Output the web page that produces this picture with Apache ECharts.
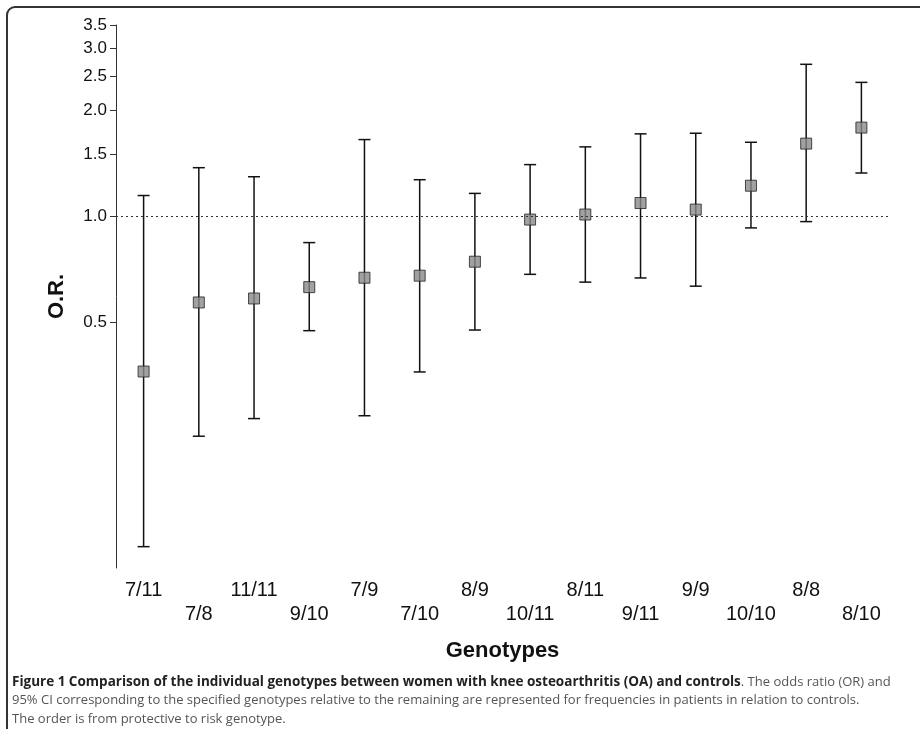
<!DOCTYPE html>
<html>
<head>
<meta charset="utf-8">
<script src="https://cdn.jsdelivr.net/npm/echarts@6/dist/echarts.min.js"></script>
<style>
html,body{margin:0;padding:0;background:#fff;}
#chart{width:920px;height:729px;}
</style>
</head>
<body>
<div id="chart"></div>
<script>
const categories = ['7/11','7/8','11/11','9/10','7/9','7/10','8/9','10/11','8/11','9/11','9/9','10/10','8/8','8/10'];
const oddsRatio = [0.362,0.569,0.584,0.629,0.669,0.678,0.743,0.979,1.012,1.091,1.045,1.222,1.610,1.788];
const ciLower  = [0.115,0.237,0.266,0.473,0.271,0.361,0.475,0.684,0.650,0.668,0.633,0.927,0.966,1.328];
const ciUpper  = [1.146,1.375,1.296,0.842,1.653,1.271,1.162,1.403,1.576,1.716,1.723,1.624,2.706,2.404];
const yTicks = [0.5,1.0,1.5,2.0,2.5,3.0,3.5];
const referenceOR = 1.0;

const chart = echarts.init(document.getElementById('chart'), null, {renderer:'canvas'});

const ciData = categories.map((c, i) => [i, ciLower[i], ciUpper[i]]);
const pointData = categories.map((c, i) => [i, oddsRatio[i]]);

const option = {
  animation: false,
  backgroundColor: '#ffffff',
  grid: { left: 116, right: 31, top: 25, bottom: 161, containLabel: false },
  xAxis: {
    type: 'category',
    data: categories,
    boundaryGap: true,
    axisLine: { show: false },
    axisTick: { show: false },
    splitLine: { show: false },
    axisLabel: {
      interval: 0,
      margin: 10,
      fontFamily: 'Liberation Sans, Arial, sans-serif',
      fontSize: 20,
      color: '#111',
      lineHeight: 24,
      verticalAlign: 'top',
      formatter: (v, i) => (i % 2 === 1 ? '\n' + v : v)
    },
    name: 'Genotypes',
    nameLocation: 'middle',
    nameGap: 72,
    nameTextStyle: { fontFamily: 'Liberation Sans, Arial, sans-serif', fontSize: 22, fontWeight: 'bold', color: '#111' }
  },
  yAxis: {
    type: 'log',
    logBase: 10,
    min: 0.1,
    max: 3.5,
    axisLine: { show: true, lineStyle: { color: '#333', width: 1 } },
    axisTick: { show: true, inside: false, length: 6, customValues: yTicks, lineStyle: { color: '#333' } },
    splitLine: { show: false },
    minorTick: { show: false },
    axisLabel: {
      customValues: yTicks,
      margin: 9,
      fontFamily: 'Liberation Sans, Arial, sans-serif',
      fontSize: 17,
      color: '#111',
      formatter: v => Number(v).toFixed(1)
    },
    name: 'O.R.',
    nameLocation: 'middle',
    nameRotate: 90,
    nameGap: 48,
    nameTextStyle: { fontFamily: 'Liberation Sans, Arial, sans-serif', fontSize: 22, fontWeight: 'bold', color: '#111' }
  },
  series: [
    {
      type: 'custom',
      name: 'CI',
      data: ciData,
      encode: { x: 0, y: [1, 2] },
      z: 2,
      renderItem: function (params, api) {
        const xi = api.value(0);
        const lo = api.coord([xi, api.value(1)]);
        const hi = api.coord([xi, api.value(2)]);
        const half = 6;
        const st = { stroke: '#111', lineWidth: 1.5 };
        return {
          type: 'group',
          children: [
            { type: 'line', shape: { x1: lo[0], y1: lo[1], x2: hi[0], y2: hi[1] }, style: st },
            { type: 'line', shape: { x1: lo[0] - half, y1: lo[1], x2: lo[0] + half, y2: lo[1] }, style: st },
            { type: 'line', shape: { x1: hi[0] - half, y1: hi[1], x2: hi[0] + half, y2: hi[1] }, style: st }
          ]
        };
      }
    },
    {
      type: 'scatter',
      name: 'OR',
      data: pointData,
      symbol: 'rect',
      symbolSize: 11,
      z: 3,
      itemStyle: { color: '#8a8a8a', borderColor: '#222', borderWidth: 1 },
      markLine: {
        silent: true,
        symbol: 'none',
        label: { show: false },
        lineStyle: { type: [2, 3], color: '#333', width: 1.2 },
        data: [{ yAxis: referenceOR }]
      }
    }
  ],
  graphic: [
    {
      type: 'rect',
      shape: { x: 7, y: 7, width: 960, height: 800, r: 8 },
      style: { fill: null, stroke: '#333', lineWidth: 2 },
      silent: true,
      z: 10
    },
    {
      type: 'text',
      left: 12,
      top: 675,
      silent: true,
      style: {
        text: '{b|Figure 1 Comparison of the individual genotypes between women with knee osteoarthritis (OA) and controls}{n|. The odds ratio (OR) and}\n{n|95% CI corresponding to the specified genotypes relative to the remaining are represented for frequencies in patients in relation to controls.}\n{n|The order is from protective to risk genotype.}',
        rich: {
          b: { fontFamily: 'Open Sans, sans-serif', fontSize: 13.5, fontWeight: 'bold', fill: '#222', lineHeight: 18.5 },
          n: { fontFamily: 'Open Sans, sans-serif', fontSize: 13, fill: '#555', lineHeight: 18.5 }
        }
      }
    }
  ]
};
chart.setOption(option);
</script>
</body>
</html>
